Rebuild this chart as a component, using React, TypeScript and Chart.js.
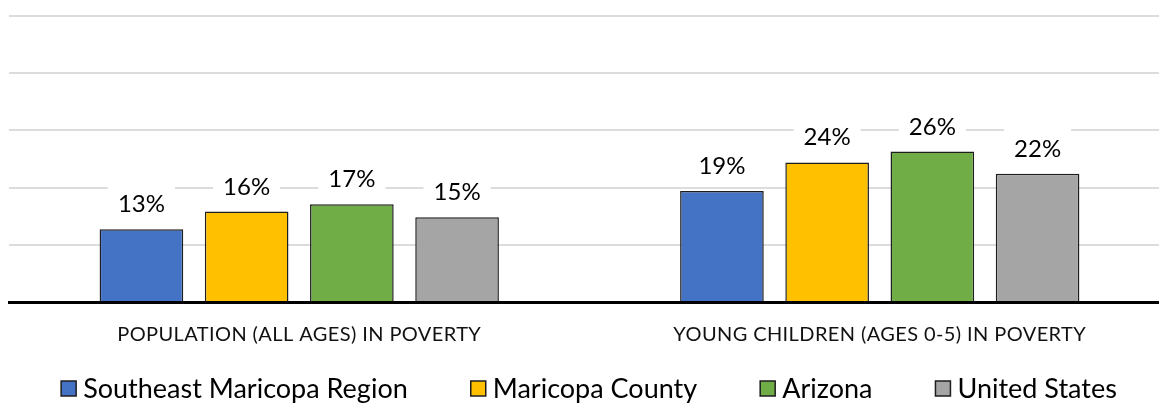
import React, { useEffect, useRef } from 'react';
import { Chart, registerables } from 'chart.js';

Chart.register(...registerables);

const categories = ['POPULATION (ALL AGES) IN POVERTY', 'YOUNG CHILDREN (AGES 0-5) IN POVERTY'];
const seriesNames = ['Southeast Maricopa Region', 'Maricopa County', 'Arizona', 'United States'];
const southeastMaricopa = [12.7, 19.4];
const maricopaCounty = [15.8, 24.4];
const arizona = [17.1, 26.3];
const unitedStates = [14.8, 22.4];
const seriesColors = ['#4472C4', '#FFC000', '#70AD47', '#A5A5A5'];
const yMin = 0;
const yMax = 50;
const yStep = 10;

const FONT = 'Lato';
const TICK_SPACING = '0.4px';

const barLabelPlugin = {
  id: 'barLabels',
  beforeDraw(chart: any) {
    (chart.ctx as any).letterSpacing = TICK_SPACING;
  },
  beforeDatasetsDraw(chart: any) {
    (chart.ctx as any).letterSpacing = '0px';
  },
  afterDatasetsDraw(chart: any) {
    const ctx = chart.ctx;
    ctx.save();
    (ctx as any).letterSpacing = '0px';
    ctx.font = `24px ${FONT}`;
    ctx.textAlign = 'center';
    ctx.textBaseline = 'alphabetic';
    chart.data.datasets.forEach((ds: any, i: number) => {
      const meta = chart.getDatasetMeta(i);
      meta.data.forEach((bar: any, j: number) => {
        const v = ds.data[j] as number;
        const text = Math.round(v) + '%';
        const w = ctx.measureText(text).width;
        const base = bar.y - 17;
        ctx.fillStyle = '#ffffff';
        ctx.fillRect(bar.x - w / 2 - 10, base - 28, w + 20, 30);
        ctx.fillStyle = '#000000';
        ctx.fillText(text, bar.x, base);
      });
    });
    ctx.restore();
    (ctx as any).letterSpacing = TICK_SPACING;
  },
};

const legendPlugin = {
  id: 'customLegend',
  afterDraw(chart: any) {
    const ctx = chart.ctx;
    (ctx as any).letterSpacing = '0px';
    ctx.save();
    ctx.font = `27px ${FONT}`;
    const ds = chart.data.datasets;
    const boxSize = 15;
    const gap = 7;
    const spacing = 63;
    const widths = ds.map((d: any) => boxSize + gap + ctx.measureText(d.label).width);
    const total = widths.reduce((a: number, b: number) => a + b, 0) + spacing * (ds.length - 1);
    let x = 589 - total / 2;
    const boxTop = 381;
    ds.forEach((d: any, i: number) => {
      ctx.fillStyle = d.backgroundColor;
      ctx.fillRect(x, boxTop, boxSize, boxSize);
      ctx.strokeStyle = '#1e1e1e';
      ctx.lineWidth = 1.5;
      ctx.strokeRect(x, boxTop, boxSize, boxSize);
      ctx.fillStyle = '#000000';
      ctx.textBaseline = 'alphabetic';
      ctx.textAlign = 'left';
      ctx.fillText(d.label, x + boxSize + gap, 398);
      x += widths[i] + spacing;
    });
    ctx.restore();
  },
};

export default function App() {
  const canvasRef = useRef<HTMLCanvasElement | null>(null);

  useEffect(() => {
    if (!canvasRef.current) return;
    const values = [southeastMaricopa, maricopaCounty, arizona, unitedStates];
    const chart = new Chart(canvasRef.current, {
      type: 'bar',
      data: {
        labels: categories,
        datasets: seriesNames.map((name, i) => ({
          label: name,
          data: values[i],
          backgroundColor: seriesColors[i],
          borderColor: '#1e1e1e',
          borderWidth: 1.5,
          categoryPercentage: 0.725,
          barPercentage: 0.795,
        })),
      },
      options: {
        responsive: false,
        animation: false,
        layout: { padding: { top: 16, left: 9, right: 2, bottom: 0 } },
        scales: {
          x: {
            z: 1,
            grid: { display: false },
            border: { display: true, color: '#000000', width: 3, z: 1 },
            ticks: {
              color: '#111111',
              font: { family: FONT, size: 20 },
              padding: 13,
              maxRotation: 0,
            },
            afterFit: (scale: any) => {
              scale.height = 101;
            },
          },
          y: {
            min: yMin,
            max: yMax,
            ticks: { display: false, stepSize: yStep },
            border: { display: false },
            grid: { color: '#dcdcdc', lineWidth: 2, drawTicks: false },
            afterFit: (scale: any) => {
              scale.width = 0;
            },
          },
        },
        plugins: {
          legend: { display: false },
          tooltip: { enabled: false },
        },
      },
      plugins: [barLabelPlugin, legendPlugin],
    });
    return () => chart.destroy();
  }, []);

  return (
    <div style={{ position: 'fixed', left: 0, top: 0, width: 1159, height: 403, overflow: 'hidden', background: '#fff' }}>
      <canvas ref={canvasRef} width={1172} height={403} style={{ width: 1172, height: 403 }} />
    </div>
  );
}
